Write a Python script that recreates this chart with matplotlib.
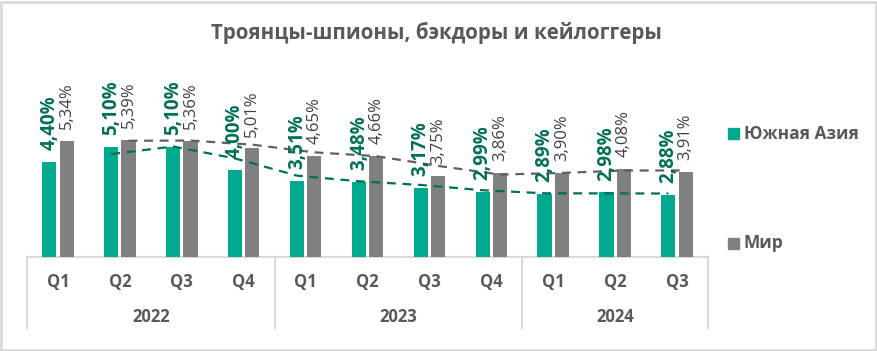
import matplotlib.pyplot as plt
import numpy as np
import pandas as pd
from matplotlib.patches import Rectangle
from matplotlib.lines import Line2D

quarters = ["Q1", "Q2", "Q3", "Q4", "Q1", "Q2", "Q3", "Q4", "Q1", "Q2", "Q3"]
years = ["2022", "2023", "2024"]
year_sizes = [4, 4, 3]
south_asia = [4.40, 5.10, 5.10, 4.00, 3.51, 3.48, 3.17, 2.99, 2.89, 2.98, 2.88]
world = [5.34, 5.39, 5.36, 5.01, 4.65, 4.66, 3.75, 3.86, 3.90, 4.08, 3.91]
series_names = ["Южная Азия", "Мир"]

TEAL = "#00a88e"
TEAL_DARK = "#006e58"
GRAY = "#808080"
TEXT = "#595959"
LINE = "#d9d9d9"

plt.rcParams["font.family"] = ["Open Sans", "DejaVu Sans"]

W, H = 878, 351
fig = plt.figure(figsize=(W / 100, H / 100), dpi=100)
ax = fig.add_axes([27 / W, (H - 257) / H, (708 - 27) / W, (257 - 62) / H])

x = np.arange(len(quarters))
bw = 0.23
off = 0.14
xs = x - off
xw = x + off
ax.bar(xs, south_asia, bw, color=TEAL, zorder=2)
ax.bar(xw, world, bw, color=GRAY, zorder=2)

# moving-average trendlines (period 2), as in the source chart
ma_sa = pd.Series(south_asia).rolling(2).mean()
ma_w = pd.Series(world).rolling(2).mean()
ax.plot(xs, ma_sa, ls=(0, (4, 3)), color=TEAL_DARK, lw=1.6, zorder=3)
ax.plot(xw, ma_w, ls=(0, (4, 3)), color="#606060", lw=1.6, zorder=3)

pad = 0.55
for xi, v in zip(xs, south_asia):
    ax.text(xi, v + pad, f"{v:.2f}%".replace(".", ","), rotation=90,
            ha="center", va="bottom", fontsize=13.5, fontweight="bold",
            color=TEAL_DARK, zorder=4)
for xi, v in zip(xw, world):
    ax.text(xi, v + pad, f"{v:.2f}%".replace(".", ","), rotation=90,
            ha="center", va="bottom", fontsize=12, color="#404040", zorder=4)

ax.set_xlim(-0.5, len(quarters) - 0.5)
ax.set_ylim(0, 9)
ax.set_xticks([])
ax.set_yticks([])
for s in ax.spines.values():
    s.set_visible(False)
ax.axhline(0, color=LINE, lw=1.5, zorder=1, clip_on=False)

# quarter and year category labels
tr = ax.get_xaxis_transform()
for xi, q in zip(x, quarters):
    ax.text(xi, -25 / 195, q, transform=tr, ha="center", va="center",
            fontsize=12, fontweight="bold", color=TEXT)
start = 0
bounds = [-0.5]
for yr, n in zip(years, year_sizes):
    ax.text(start + (n - 1) / 2, -60 / 195, yr, transform=tr, ha="center",
            va="center", fontsize=12, fontweight="bold", color=TEXT)
    start += n
    bounds.append(start - 0.5)
for b in bounds:
    ax.add_line(Line2D([b, b], [0, -71 / 195], transform=tr, color=LINE,
                       lw=1.5, clip_on=False))

# legend
for name, col, yy in zip(series_names, [TEAL, GRAY], [134, 243]):
    fig.patches.append(Rectangle((728 / W, 1 - (yy + 5.5) / H), 11 / W, 11 / H,
                                 transform=fig.transFigure, color=col))
    fig.text(744 / W, 1 - yy / H, name, ha="left", va="center",
             fontsize=12.5, fontweight="bold", color=TEXT)

fig.text(0.5 - 3 / W, 1 - 33 / H, "Троянцы-шпионы, бэкдоры и кейлоггеры",
         ha="center", va="center", fontsize=14.8, fontweight="bold", color=TEXT)

fig.patches.append(Rectangle((1 / W, 1 / H), (W - 3) / W, (H - 2.5) / H,
                             transform=fig.transFigure, fill=False,
                             edgecolor=LINE, lw=2))

fig.savefig("out.png", dpi=100)
